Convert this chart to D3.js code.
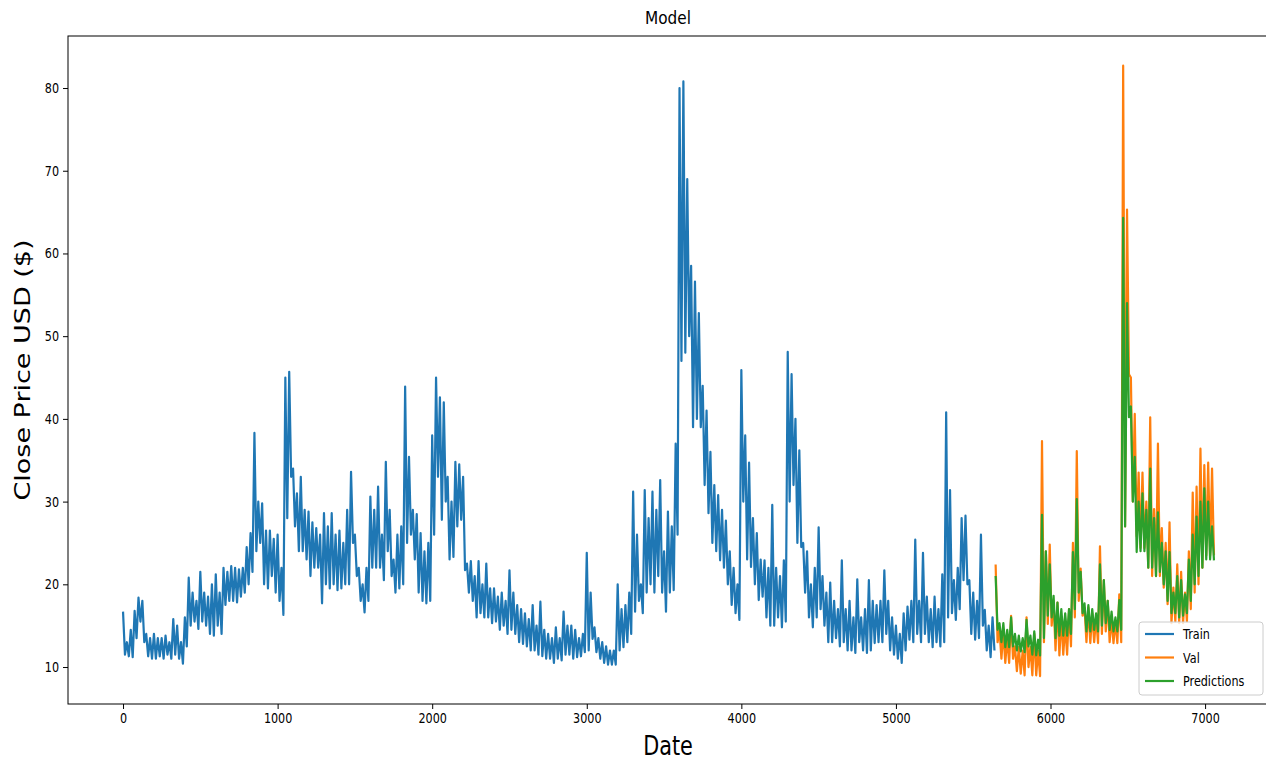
<!DOCTYPE html>
<html>
<head>
<meta charset="utf-8">
<script src="https://cdn.jsdelivr.net/npm/d3@7"></script>
<style>
  body { margin: 0; background: #fff; }
  svg { display: block; font-family: "DejaVu Sans", sans-serif; }
</style>
</head>
<body>
<svg id="vis" width="1266" height="762"></svg>
<script>
var width = 1266,
    height = 762;

// The series in 25 day bins: for each bin the top and
// the bottom of the (very dense) line, the line then runs top -> bottom in each bin.
var trainStart = 0, binStep = 25;
var trainHigh = [
  16.7, 13.0, 14.5, 16.8, 18.4, 18.0, 14.0, 13.5, 14.0, 13.5, 13.5, 13.8,
  13.0, 15.8, 15.0, 13.0, 16.0, 20.8, 19.0, 18.0, 21.5, 19.0, 18.5, 20.0,
  21.2, 19.0, 22.0, 21.5, 22.2, 22.0, 21.8, 22.0, 24.5, 26.2, 38.3, 30.0,
  29.8, 26.5, 26.5, 25.5, 26.0, 22.0, 45.0, 45.7, 34.0, 31.0, 33.0, 29.0,
  28.8, 27.5, 26.8, 26.0, 28.6, 27.0, 28.6, 26.0, 26.5, 25.0, 29.0, 33.6,
  26.0, 22.0, 20.0, 22.0, 30.6, 29.0, 31.8, 26.0, 34.8, 29.0, 23.0, 26.0,
  27.0, 43.9, 35.4, 29.0, 28.5, 26.2, 24.0, 25.0, 38.0, 45.0, 42.6, 42.0,
  33.0, 30.0, 34.8, 34.5, 33.0, 22.5, 22.8, 21.0, 22.8, 20.0, 22.5, 19.5,
  19.5, 18.5, 19.0, 18.0, 21.7, 19.0, 17.5, 17.0, 16.5, 15.8, 17.5, 15.0,
  17.9, 14.5, 14.0, 13.5, 14.8, 13.5, 16.7, 15.0, 15.0, 14.5, 13.5, 14.0,
  23.8, 19.0, 14.8, 13.5, 13.0, 12.5, 12.0, 12.0, 20.0, 17.0, 17.5, 19.0,
  31.2, 26.0, 20.0, 31.4, 28.0, 31.2, 29.0, 32.6, 24.0, 28.8, 27.0, 37.0,
  80.0, 80.8, 69.0, 58.5, 56.6, 52.8, 44.0, 41.0, 36.0, 32.0, 30.8, 29.0,
  27.7, 24.0, 22.0, 20.0, 45.9, 38.0, 34.7, 28.0, 26.2, 23.0, 22.9, 22.0,
  29.6, 22.0, 21.0, 22.9, 48.1, 45.4, 40.0, 36.2, 25.0, 24.0, 20.0, 22.0,
  26.9, 21.0, 19.0, 20.2, 18.0, 17.0, 22.9, 17.0, 18.0, 16.0, 20.6, 16.0,
  17.0, 20.5, 18.0, 17.5, 18.0, 21.7, 18.0, 16.0, 15.0, 14.0, 16.5, 17.3,
  18.0, 25.4, 18.0, 23.8, 18.5, 17.0, 18.5, 17.0, 21.2, 40.8, 31.4, 20.5,
  22.0, 28.0, 28.3, 20.5, 19.0, 18.0, 26.0, 16.9, 15.0, 16.0
];
var trainLow = [
  11.5, 11.3, 11.2, 13.5, 15.5, 13.0, 11.3, 11.0, 11.0, 11.3, 11.0, 11.5,
  11.0, 11.5, 11.0, 10.4, 12.5, 15.0, 15.5, 14.6, 15.5, 15.0, 14.0, 13.8,
  15.0, 14.0, 17.5, 18.0, 18.0, 17.8, 18.5, 19.0, 20.0, 21.5, 24.0, 25.0,
  20.0, 19.5, 21.0, 19.0, 18.0, 16.3, 28.0, 33.0, 27.0, 24.0, 24.0, 23.0,
  21.0, 22.0, 22.0, 17.7, 20.0, 19.5, 20.0, 19.3, 19.5, 20.0, 20.0, 25.0,
  21.0, 18.0, 16.6, 18.0, 22.0, 22.0, 22.0, 20.5, 24.0, 21.0, 19.0, 19.5,
  20.0, 25.0, 26.0, 23.0, 19.0, 18.0, 17.7, 18.0, 26.0, 33.0, 27.8, 30.0,
  23.0, 23.3, 27.0, 27.8, 21.7, 19.0, 18.0, 16.0, 16.5, 16.0, 16.0, 15.3,
  15.5, 14.5, 15.0, 14.0, 14.5, 14.0, 13.0, 12.8, 12.5, 12.0, 12.0, 11.5,
  11.3, 11.0, 11.0, 10.5, 11.0, 10.8, 11.5, 11.5, 11.0, 11.2, 11.3, 11.8,
  12.0, 13.4, 11.8, 11.0, 10.5, 10.3, 10.3, 10.3, 12.0, 12.4, 13.0, 14.0,
  16.7, 18.0, 16.5, 19.0, 20.0, 19.0, 21.0, 19.0, 16.7, 19.0, 19.3, 26.0,
  47.0, 48.0, 50.0, 39.0, 40.0, 39.0, 32.0, 28.6, 25.0, 24.0, 22.9, 22.0,
  20.0, 17.5, 16.5, 15.7, 30.0, 23.0, 22.1, 20.0, 18.1, 18.5, 16.0, 15.0,
  15.0, 16.0, 14.8, 15.5, 30.0, 32.0, 25.0, 24.5, 19.0, 16.0, 14.8, 16.0,
  17.0, 15.0, 13.0, 13.0, 13.5, 12.5, 13.0, 12.0, 12.0, 11.7, 13.0, 12.0,
  11.7, 12.0, 12.9, 13.0, 13.0, 14.0, 12.0, 11.5, 11.0, 10.5, 12.0, 13.3,
  13.0, 14.0, 13.0, 14.0, 13.0, 12.4, 13.0, 12.5, 13.0, 16.0, 16.5, 15.7,
  17.0, 20.5, 20.0, 14.0, 13.3, 13.5, 15.0, 12.0, 11.2, 12.0
];

// Validation period, 25 day bins from day 5645
var valStart = 5645;
var valHigh = [
  22.4, 14.5, 14.3, 13.5, 16.2, 12.5, 12.4, 12.0, 16.0, 12.4, 14.0, 12.0,
  37.3, 24.0, 24.8, 18.0, 17.8, 16.0, 15.0, 17.0, 25.0, 36.1, 21.9, 17.2,
  17.2, 16.5, 16.0, 24.6, 20.5, 18.0, 15.8, 15.5, 18.8, 82.7, 65.3, 45.0,
  40.6, 33.5, 33.5, 30.0, 40.2, 29.1, 37.0, 26.8, 25.0, 27.5, 19.6, 22.4,
  21.5, 19.0, 24.0, 31.1, 31.8, 36.4, 34.4, 34.7, 34.0
];
var valLow = [
  13.0, 11.0, 10.5, 10.5, 11.0,  9.5,  9.2,  9.0, 10.0,  9.0,  9.0,  8.9,
  13.0, 15.2, 15.0, 12.0, 11.4, 11.5, 11.5, 12.5, 16.0, 18.0, 16.2, 13.0,
  12.9, 13.0, 12.9, 14.0, 14.3, 13.0, 12.9, 12.9, 13.0, 27.0, 45.4, 30.0,
  25.8, 24.4, 24.4, 22.0, 21.0, 21.0, 21.0, 19.6, 17.6, 15.3, 15.5, 15.3,
  15.3, 15.5, 17.0, 19.0, 20.0, 22.0, 23.5, 23.5, 23.5
];
var predHigh = [
  21.0, 15.3, 15.3, 14.5, 16.0, 14.0, 13.8, 13.5, 15.7, 13.8, 14.3, 13.3,
  28.4, 24.0, 22.4, 18.6, 17.8, 17.0, 16.5, 17.0, 23.9, 30.3, 21.5, 17.7,
  17.5, 17.0, 16.5, 22.4, 20.5, 18.0, 16.7, 16.0, 18.1, 64.3, 54.0, 41.5,
  35.4, 30.0, 31.0, 29.0, 34.0, 28.0, 28.7, 25.0, 24.0, 23.9, 19.0, 21.0,
  20.5, 18.8, 23.0, 26.0, 28.2, 30.0, 31.6, 30.0, 27.0
];
var predLow = [
  14.5, 13.0, 12.4, 12.4, 12.5, 12.0, 11.9, 11.8, 12.5, 11.5, 11.4, 11.4,
  13.5, 16.2, 16.0, 13.5, 13.8, 13.8, 13.8, 14.0, 17.0, 19.0, 16.5, 14.3,
  14.3, 14.5, 14.3, 15.0, 15.3, 14.5, 14.3, 14.3, 14.5, 27.0, 40.2, 30.0,
  23.9, 24.0, 24.0, 22.0, 22.0, 21.0, 21.5, 20.0, 18.0, 16.5, 16.5, 16.0,
  16.2, 16.5, 18.0, 20.0, 21.0, 22.0, 23.0, 23.0, 22.9
];

var seriesNames = ["Train", "Val", "Predictions"];
var seriesColors = ["#1f77b4", "#ff7f0e", "#2ca02c"];
var xTicks = [0, 1000, 2000, 3000, 4000, 5000, 6000, 7000];
var yTicks = [10, 20, 30, 40, 50, 60, 70, 80];

// the reference picture is squeezed sideways, so text is narrowed a little
var squeeze = 0.8;

var plot = { left: 68, right: 1268, top: 36, bottom: 704 };

var x = d3.scaleLinear().domain([-356, 7407]).range([plot.left, plot.right]);
var y = d3.scaleLinear().domain([5.53, 86.29]).range([plot.bottom, plot.top]);

// top of each bin at its start, bottom half a bin later
function toPoints(start, highs, lows) {
  var pts = [];
  highs.forEach(function(h, i) {
    pts.push([start + i * binStep, h]);
    pts.push([start + i * binStep + binStep / 2, lows[i]]);
  });
  return pts;
}

var series = [
  toPoints(trainStart, trainHigh, trainLow),
  toPoints(valStart, valHigh, valLow),
  toPoints(valStart, predHigh, predLow)
];

var svg = d3.select("#vis");

svg.append("defs").append("clipPath").attr("id", "clip")
  .append("rect")
  .attr("x", plot.left).attr("y", plot.top)
  .attr("width", plot.right - plot.left).attr("height", plot.bottom - plot.top);

var line = d3.line()
  .x(function(d) { return x(d[0]); })
  .y(function(d) { return y(d[1]); });

svg.append("g").attr("clip-path", "url(#clip)")
  .selectAll("path")
  .data(series)
  .enter()
  .append("path")
  .attr("d", line)
  .attr("fill", "none")
  .attr("stroke", function(d, i) { return seriesColors[i]; })
  .attr("stroke-width", 2.2)
  .attr("stroke-linejoin", "round");

// axes
var xAxis = svg.append("g")
  .attr("transform", "translate(0," + plot.bottom + ")")
  .call(d3.axisBottom(x).tickValues(xTicks).tickFormat(d3.format("d"))
    .tickSize(5).tickPadding(4).tickSizeOuter(0));

var yAxis = svg.append("g")
  .attr("transform", "translate(" + plot.left + ",0)")
  .call(d3.axisLeft(y).tickValues(yTicks).tickFormat(d3.format("d"))
    .tickSize(5).tickPadding(4).tickSizeOuter(0));

[xAxis, yAxis].forEach(function(ax) {
  ax.select(".domain").remove();
  ax.selectAll(".tick line").attr("stroke", "#000").attr("stroke-width", 1);
  ax.selectAll(".tick text")
    .attr("fill", "#000")
    .style("font-size", "14px")
    .style("font-family", "DejaVu Sans");
});

// narrow the tick labels around their anchor points
xAxis.selectAll(".tick text")
  .attr("transform", "scale(" + squeeze + ",1)")
  .attr("dy", "0.71em");
yAxis.selectAll(".tick text").each(function() {
  var t = d3.select(this);
  var tx = +t.attr("x");
  t.attr("x", null)
   .attr("transform", "translate(" + tx + ",0) scale(" + squeeze + ",1)");
});

// frame
svg.append("rect")
  .attr("x", plot.left).attr("y", plot.top)
  .attr("width", plot.right - plot.left).attr("height", plot.bottom - plot.top)
  .attr("fill", "none").attr("stroke", "#000").attr("stroke-width", 1);

// title and axis labels
svg.append("text")
  .attr("transform", "translate(" + ((plot.left + plot.right) / 2) + ",24) scale(0.85,1)")
  .attr("text-anchor", "middle")
  .style("font-size", "18px")
  .text("Model");

svg.append("text")
  .attr("transform", "translate(" + ((plot.left + plot.right) / 2) + ",755) scale(" + squeeze + ",1)")
  .attr("text-anchor", "middle")
  .style("font-size", "26px")
  .text("Date");

svg.append("text")
  .attr("transform", "translate(30," + ((plot.top + plot.bottom) / 2) + ") scale(" + squeeze + ",1) rotate(-90)")
  .attr("text-anchor", "middle")
  .style("font-size", "27px")
  .text("Close Price USD ($)");

// legend, lower right
var legend = svg.append("g").attr("transform", "translate(1139,622)");
legend.append("rect")
  .attr("width", 124).attr("height", 73).attr("rx", 3)
  .attr("fill", "#fff").attr("fill-opacity", 0.8)
  .attr("stroke", "#cccccc").attr("stroke-width", 1);

var rows = legend.selectAll("g.row")
  .data(seriesNames)
  .enter()
  .append("g")
  .attr("class", "row")
  .attr("transform", function(d, i) { return "translate(0," + (12 + i * 23.5) + ")"; });

rows.append("line")
  .attr("x1", 6).attr("x2", 35)
  .attr("stroke", function(d, i) { return seriesColors[i]; })
  .attr("stroke-width", 2.2);

rows.append("text")
  .attr("transform", "translate(44,5) scale(" + squeeze + ",1)")
  .style("font-size", "14px")
  .text(function(d) { return d; });
</script>
</body>
</html>
